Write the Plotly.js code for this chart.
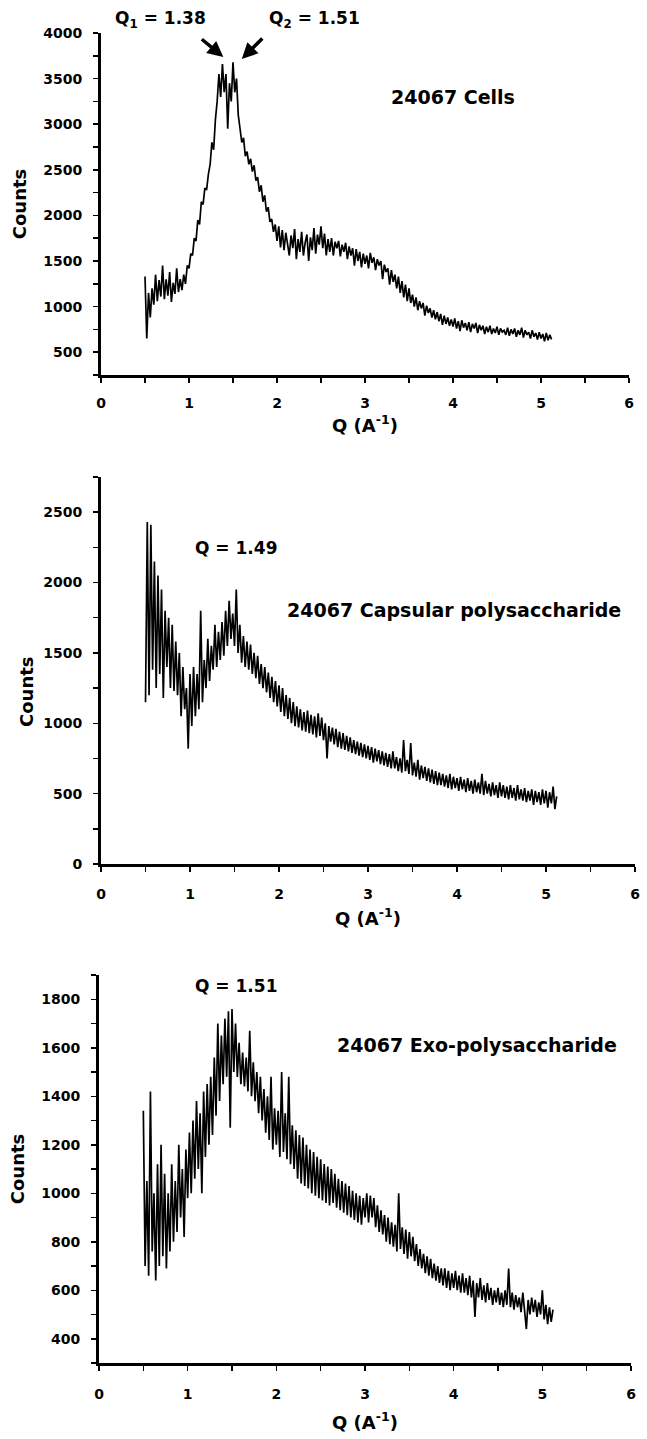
<!DOCTYPE html>
<html>
<head>
<meta charset="utf-8">
<script src="https://cdn.plot.ly/plotly-3.0.1.min.js"></script>
<style>html,body{margin:0;padding:0;background:#fff;}#chart{width:647px;height:1439px;}</style>
</head>
<body>
<div id="chart"></div>
<script>
// Q grid: first value and spacing (A^-1)
const Q_START = 0.5;
const Q_STEP = 0.02;

// 24067 Cells, counts (Q = 0.50 ... 5.12)
const cellsCounts = [
1330,650,1150,880,1200, 1020,1350,1060,1290,1110, 1450,1080,1300,1120,1380, 1050,1260,1140,1420,1160,
1300,1180,1350,1250,1450, 1420,1580,1560,1750,1720, 1950,1900,2150,2120,2300, 2280,2450,2560,2800,2720,
3050,3250,3550,3300,3660, 3350,3550,2950,3450,3250, 3680,3350,3500,3100,2950, 2800,2850,2650,2700,2560,
2620,2480,2550,2380,2420, 2260,2330,2150,2220,2040, 2090,1930,1960,1820,1900,
1720,1880,1650,1840,1620, 1810,1700,1560,1780,1640, 1850,1520,1740,1600,1820, 1560,1700,1790,1500,1760,
1620,1860,1580,1790,1680, 1880,1640,1800,1560,1740, 1600,1750,1560,1710,1640, 1720,1550,1680,1600,1700,
1520,1660,1560,1640,1450, 1630,1500,1600,1430,1580, 1470,1560,1420,1590,1480, 1540,1400,1520,1450,1500,
1300,1460,1380,1420,1240, 1400,1270,1350,1200,1330, 1150,1280,1100,1240,1060, 1200,1040,1130,1000,1100,
960,1060,980,1040,900, 1010,930,980,880,960, 860,940,840,920,800, 900,810,880,790,860,
780,870,760,840,730, 850,770,820,740,830, 720,810,760,820,710, 800,740,790,700,780,
720,790,700,760,710, 780,690,760,720,740, 690,770,680,750,700, 760,670,740,690,770,
660,740,690,720,650, 740,670,710,640,720, 650,700,620,710,630, 690,640
];

// 24067 Capsular polysaccharide
const capsularCounts = [
1150,2430,1200,2410,1380, 2150,1250,2050,1350,1950, 1180,1800,1400,1750,1250, 1700,1230,1580,1200,1500,
1050,1400,1100,1250,820, 1350,980,1400,1050,1350, 1100,1800,1150,1450,1250, 1600,1300,1550,1380,1700,
1400,1650,1450,1720,1480, 1800,1550,1870,1600,1780, 1550,1950,1500,1700,1430, 1620,1400,1580,1380,1560,
1350,1500,1320,1480,1280, 1420,1250,1400,1220,1360, 1180,1330,1150,1300,1120, 1270,1080,1250,1050,1200,
1030,1180,1000,1150,980, 1120,970,1100,950,1080, 940,1090,930,1060,920, 1050,900,1070,910,1040,
880,1000,750,980,870, 970,850,960,830,940, 820,930,810,910,800, 900,790,880,780,870,
770,860,760,850,750, 840,740,830,720,820, 730,810,710,800,700, 790,690,780,680,800,
680,760,660,750,650, 880,660,740,640,860, 630,720,620,740,600, 700,610,690,590,680,
580,670,570,660,560, 650,560,640,550,630, 540,640,530,620,540, 610,520,620,530,600,
510,610,520,590,500, 600,510,580,500,640, 490,590,500,570,480, 580,490,560,470,580,
480,560,470,550,460, 560,470,540,450,560, 460,530,450,540,440, 520,450,530,420,520,
440,510,420,530,430, 520,400,510,430,550, 390,480
];

// 24067 Exo-polysaccharide
const exoCounts = [
1340,700,1050,660,1420, 760,1000,640,1120,700, 1200,740,1080,690,1000, 760,1120,800,1050,840,
1200,900,1100,820,1180, 980,1250,1000,1300,1060, 1380,1100,1330,1000,1420, 1150,1450,1200,1480,1240,
1560,1320,1700,1380,1650, 1450,1720,1480,1750,1270, 1760,1500,1700,1480,1620, 1450,1580,1440,1560,1420,
1670,1400,1540,1380,1500, 1330,1480,1300,1430,1250, 1400,1220,1480,1180,1350, 1200,1340,1150,1500,1170,
1330,1140,1480,1120,1280, 1100,1260,1060,1240,1040, 1230,1030,1200,1020,1180, 1000,1170,990,1150,980,
1140,970,1120,960,1110, 950,1100,960,1080,940, 1060,930,1050,920,1040, 910,1030,900,1010,890,
1000,880,990,870,980, 900,1000,880,990,900, 980,860,950,840,930, 830,910,800,900,790,
880,780,870,760,1000, 770,860,750,850,730, 840,740,820,720,790, 700,770,690,750,670,
740,660,730,650,710, 640,700,630,690,620, 690,610,680,600,670, 610,680,600,660,590,
670,590,650,580,660, 570,640,490,630,570, 650,560,620,550,630, 560,610,540,600,550,
610,540,590,530,600, 540,690,530,590,520, 580,530,570,510,590, 520,440,560,500,570,
510,560,490,550,500, 600,480,540,460,530, 470,520
];

const panelNames = ['24067 Cells', '24067 Capsular polysaccharide', '24067 Exo-polysaccharide'];
const peakLabels = ['Q<sub>1</sub> = 1.38', 'Q<sub>2</sub> = 1.51', 'Q = 1.49', 'Q = 1.51'];
const arrowTips = [{q: 1.39, c: 3737}, {q: 1.60, c: 3716}];
const xTitle = 'Q (A<sup>-1</sup>)';
const yTitle = 'Counts';

const W = 647, H = 1439;
const px = v => v / W;
const py = v => 1 - v / H;
const FONT = 'DejaVu Sans, Verdana, sans-serif';
const lineStyle = {color: '#000', width: 1.7};

const traces = [
  {type: 'scatter', mode: 'lines', x0: Q_START, dx: Q_STEP, y: cellsCounts, xaxis: 'x', yaxis: 'y', line: lineStyle, name: panelNames[0]},
  {type: 'scatter', mode: 'lines', x0: Q_START, dx: Q_STEP, y: capsularCounts, xaxis: 'x2', yaxis: 'y2', line: lineStyle, name: panelNames[1]},
  {type: 'scatter', mode: 'lines', x0: Q_START, dx: Q_STEP, y: exoCounts, xaxis: 'x3', yaxis: 'y3', line: lineStyle, name: panelNames[2]}
];

const tickFont = {family: FONT, size: 14, color: '#000', weight: 'bold'};
const titleFont = {family: FONT, size: 18, color: '#000', weight: 'bold'};

function xAx(dom, anchor, lblOff, stand) {
  return {
    domain: dom, anchor: anchor, range: [0, 6], dtick: 1, tick0: 0,
    ticks: 'outside', ticklen: 5, tickwidth: 1.5, tickcolor: '#000',
    showline: true, linewidth: 3, linecolor: '#000', zeroline: false, showgrid: false,
    minor: {dtick: 0.5, ticks: 'outside', ticklen: 5, tickwidth: 1.5, tickcolor: '#000', showgrid: false},
    tickfont: tickFont, ticklabelstandoff: lblOff,
    title: {text: xTitle, font: titleFont, standoff: stand}
  };
}
function yAx(dom, anchor, range, dtick, minor, withTitle) {
  const ax = {
    domain: dom, anchor: anchor, range: range, dtick: dtick, tick0: 0,
    ticks: 'outside', ticklen: 5, tickwidth: 1.5, tickcolor: '#000',
    showline: true, linewidth: 3, linecolor: '#000', zeroline: false, showgrid: false,
    minor: {dtick: minor, ticks: 'outside', ticklen: 5, tickwidth: 1.5, tickcolor: '#000', showgrid: false},
    tickfont: tickFont, ticklabelstandoff: 8
  };
  if (withTitle) ax.title = {text: yTitle, font: titleFont, standoff: 12};
  return ax;
}

const ann = [];
function label(text, x, y, size) {
  ann.push({text: text, xref: 'paper', yref: 'paper', x: px(x), y: py(y), xanchor: 'center', yanchor: 'middle',
    showarrow: false, font: {family: FONT, size: size, color: '#000', weight: 'bold'}});
}
label(peakLabels[0], 160, 19, 17);
label(peakLabels[1], 314, 19, 17);
label(panelNames[0], 453, 97, 19);
label(peakLabels[2], 236, 548, 17);
label(panelNames[1], 454, 610, 19);
label(peakLabels[3], 236, 986, 17);
label(panelNames[2], 477, 1045, 19);
ann.push({text: yTitle, xref: 'paper', yref: 'paper', x: px(26), y: py(692), xanchor: 'center', yanchor: 'middle',
  textangle: -90, showarrow: false, font: titleFont});
ann.push({text: '', x: arrowTips[0].q, y: arrowTips[0].c, xref: 'x', yref: 'y', showarrow: true,
  ax: -23, ay: -19, arrowhead: 2, arrowsize: 0.9, arrowwidth: 3.5, arrowcolor: '#000', standoff: 0});
ann.push({text: '', x: arrowTips[1].q, y: arrowTips[1].c, xref: 'x', yref: 'y', showarrow: true,
  ax: 22, ay: -22, arrowhead: 2, arrowsize: 0.9, arrowwidth: 3.5, arrowcolor: '#000', standoff: 0});

const layout = {
  width: W, height: H, margin: {l: 0, r: 0, t: 0, b: 0},
  paper_bgcolor: '#fff', plot_bgcolor: '#fff', showlegend: false,
  xaxis: xAx([px(101), px(629)], 'y', 8, 10),
  yaxis: yAx([py(375), py(33)], 'x', [250, 4000], 500, 250, true),
  xaxis2: xAx([px(101), px(635)], 'y2', 10, 12),
  yaxis2: yAx([py(864), py(477)], 'x2', [0, 2750], 500, 250, false),
  xaxis3: xAx([px(99), px(631)], 'y3', 11, 16),
  yaxis3: yAx([py(1363), py(975)], 'x3', [300, 1900], 200, 100, true),
  annotations: ann
};

Plotly.newPlot('chart', traces, layout, {staticPlot: true, displayModeBar: false});
</script>
</body>
</html>
